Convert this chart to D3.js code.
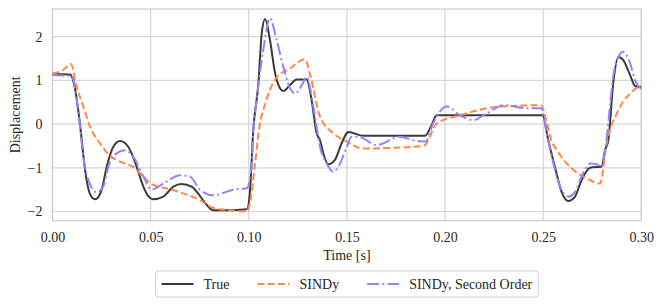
<!DOCTYPE html>
<html>
<head>
<meta charset="utf-8">
<script src="https://cdn.jsdelivr.net/npm/d3@7"></script>
<style>
  body { margin: 0; background: #fff; }
  svg text { font-family: "Liberation Serif", "Times New Roman", serif; fill: #262626; }
</style>
</head>
<body>
<div id="chart"></div>
<script>
// --- data ---
const trueT = [0, 0.004, 0.009, 0.0115, 0.014, 0.0166, 0.019, 0.0217, 0.025, 0.0276, 0.031, 0.0344, 0.0386, 0.0429, 0.0463, 0.0488, 0.0512, 0.0565, 0.0616, 0.0658, 0.0709, 0.0751, 0.0786, 0.0819, 0.0888, 0.099, 0.1005, 0.1023, 0.1049, 0.1066, 0.1083, 0.1108, 0.1134, 0.1159, 0.1176, 0.121, 0.1244, 0.1295, 0.132, 0.1346, 0.1363, 0.138, 0.1405, 0.1439, 0.1473, 0.1499, 0.1507, 0.1584, 0.1898, 0.1932, 0.1957, 0.2497, 0.2526, 0.256, 0.2594, 0.2628, 0.2662, 0.2696, 0.2739, 0.2798, 0.2815, 0.2832, 0.2857, 0.2883, 0.2908, 0.2943, 0.2968, 0.30];
const trueV = [1.15, 1.14, 1.13, 0.8, 0.0, -1.05, -1.59, -1.72, -1.51, -0.98, -0.52, -0.39, -0.52, -0.98, -1.43, -1.65, -1.72, -1.66, -1.43, -1.37, -1.43, -1.64, -1.85, -1.97, -1.97, -1.95, -1.6, -0.14, 0.93, 2.07, 2.4, 1.92, 1.16, 0.82, 0.755, 0.89, 1.02, 1.02, 0.55, -0.21, -0.37, -0.67, -0.92, -0.82, -0.44, -0.21, -0.18, -0.27, -0.27, -0.02, 0.2, 0.2, -0.37, -0.98, -1.55, -1.76, -1.66, -1.28, -1.0, -0.97, -0.6, -0.37, 0.93, 1.53, 1.46, 1.12, 0.87, 0.84];

const sindyT = [0, 0.005, 0.0094, 0.0123, 0.0157, 0.0191, 0.024, 0.029, 0.0344, 0.041, 0.0463, 0.05, 0.0615, 0.0751, 0.082, 0.09, 0.099, 0.1006, 0.1032, 0.105, 0.109, 0.114, 0.121, 0.1287, 0.131, 0.1363, 0.143, 0.15, 0.158, 0.17, 0.189, 0.196, 0.2076, 0.228, 0.249, 0.2515, 0.254, 0.257, 0.262, 0.272, 0.279, 0.2825, 0.2875, 0.2943, 0.30];
const sindyV = [1.15, 1.22, 1.37, 0.85, 0.4, -0.06, -0.43, -0.71, -0.86, -0.98, -1.2, -1.36, -1.51, -1.74, -1.92, -1.97, -2.0, -1.81, -0.9, -0.2, 0.55, 1.05, 1.27, 1.48, 1.17, 0.17, -0.21, -0.4, -0.56, -0.55, -0.5, 0.02, 0.2, 0.4, 0.43, 0.1, -0.35, -0.6, -0.9, -1.24, -1.36, -0.4, 0.24, 0.7, 0.88];

const sindy2T = [0, 0.005, 0.0098, 0.014, 0.0157, 0.019, 0.0225, 0.0259, 0.0284, 0.0327, 0.037, 0.0412, 0.0463, 0.0505, 0.0565, 0.065, 0.07, 0.0751, 0.082, 0.092, 0.099, 0.1015, 0.1023, 0.104, 0.1074, 0.1108, 0.1142, 0.1176, 0.121, 0.1236, 0.127, 0.1295, 0.1329, 0.1363, 0.1397, 0.143, 0.1465, 0.15, 0.1524, 0.1567, 0.165, 0.177, 0.1838, 0.19, 0.194, 0.2008, 0.2076, 0.2144, 0.2212, 0.23, 0.2416, 0.249, 0.2518, 0.2552, 0.2586, 0.2628, 0.2662, 0.2696, 0.274, 0.2773, 0.2798, 0.2815, 0.2866, 0.2908, 0.2943, 0.2968, 0.30];
const sindy2V = [1.12, 1.11, 1.1, -0.06, -0.75, -1.36, -1.56, -1.43, -0.98, -0.67, -0.6, -0.75, -1.2, -1.5, -1.36, -1.17, -1.2, -1.5, -1.63, -1.5, -1.47, -0.9, -0.14, 0.55, 1.7, 2.42, 1.92, 1.31, 0.82, 0.7, 0.89, 1.08, 0.4, -0.52, -0.9, -1.09, -0.9, -0.52, -0.29, -0.3, -0.48, -0.29, -0.37, -0.4, 0.02, 0.4, 0.2, 0.09, 0.24, 0.43, 0.36, 0.36, -0.21, -0.9, -1.43, -1.66, -1.55, -1.2, -0.9, -0.92, -0.98, -0.6, 1.31, 1.65, 1.39, 1.0, 0.8];

const seriesNames = ["True", "SINDy", "SINDy, Second Order"];
const xTicks = [0, 0.05, 0.10, 0.15, 0.20, 0.25, 0.30];
const yTicks = [-2, -1, 0, 1, 2];

const W = 664, H = 306;
const M = {left: 52.5, right: 22.7, top: 9, bottom: 85.3};
const FONT = '"Liberation Serif", "Times New Roman", serif';

const svg = d3.select('#chart').append('svg')
  .attr('width', W).attr('height', H);

const x = d3.scaleLinear().domain([0, 0.30]).range([M.left, W - M.right]);
const y = d3.scaleLinear().domain([-2.21, 2.63]).range([H - M.bottom, M.top]);

// grid
const grid = svg.append('g');
grid.selectAll('line.gx').data(xTicks).join('line')
  .attr('x1', d => x(d)).attr('x2', d => x(d))
  .attr('y1', M.top).attr('y2', H - M.bottom)
  .attr('stroke', '#d6d6d6').attr('stroke-width', 1.2);
grid.selectAll('line.gy').data(yTicks).join('line')
  .attr('x1', M.left).attr('x2', W - M.right)
  .attr('y1', d => y(d)).attr('y2', d => y(d))
  .attr('stroke', '#d6d6d6').attr('stroke-width', 1.2);

// frame
svg.append('rect')
  .attr('x', M.left).attr('y', M.top)
  .attr('width', W - M.left - M.right).attr('height', H - M.top - M.bottom)
  .attr('fill', 'none').attr('stroke', '#cccccc').attr('stroke-width', 1.2);

// axes (labels only)
const xAxisG = svg.append('g')
  .attr('transform', `translate(0,${H - M.bottom})`)
  .call(d3.axisBottom(x).tickValues(xTicks).tickFormat(d3.format('.2f')).tickSize(0).tickPadding(11));
const yAxisG = svg.append('g')
  .attr('transform', `translate(${M.left},0)`)
  .call(d3.axisLeft(y).tickValues(yTicks).tickFormat(d3.format('d')).tickSize(0).tickPadding(10));
[xAxisG, yAxisG].forEach(g => {
  g.attr('font-family', null).attr('font-size', null);
  g.select('.domain').remove();
  g.selectAll('text')
    .style('font-family', FONT)
    .style('font-size', '14px')
    .attr('fill', '#262626');
});

svg.append('text')
  .attr('x', (M.left + W - M.right) / 2).attr('y', 260)
  .attr('text-anchor', 'middle').attr('font-size', 14)
  .text('Time [s]');
svg.append('text')
  .attr('transform', `translate(20,${(M.top + H - M.bottom) / 2}) rotate(-90)`)
  .attr('text-anchor', 'middle').attr('font-size', 14)
  .text('Displacement');

// lines
const styles = [
  {color: '#3a3a3a', dash: null},
  {color: '#ff8a45', dash: '7,3.2'},
  {color: '#9384f6', dash: '12,3.2,2,3.2'}
];
const seriesData = [
  trueT.map((t, i) => [t, trueV[i]]),
  sindyT.map((t, i) => [t, sindyV[i]]),
  sindy2T.map((t, i) => [t, sindy2V[i]])
];
const line = d3.line().x(d => x(d[0])).y(d => y(d[1])).curve(d3.curveMonotoneX);

const linesG = svg.append('g');
[0, 1, 2].forEach(i => {
  linesG.append('path')
    .datum(seriesData[i])
    .attr('d', line)
    .attr('fill', 'none')
    .attr('stroke', styles[i].color)
    .attr('stroke-width', 2)
    .attr('stroke-dasharray', styles[i].dash);
});

// legend
const leg = svg.append('g');
const box = leg.append('rect');
let cx = 0;
seriesNames.forEach((name, i) => {
  const g = leg.append('g').attr('transform', `translate(${cx},0)`);
  g.append('line').attr('x1', 0).attr('x2', 32).attr('y1', 0).attr('y2', 0)
    .attr('stroke', styles[i].color).attr('stroke-width', 2)
    .attr('stroke-dasharray', styles[i].dash);
  const t = g.append('text').attr('x', 42).attr('y', 5).attr('font-size', 14).text(name);
  cx += 42 + t.node().getComputedTextLength() + 28;
});
const legW = cx - 28 + 2 * 6;
const legX = (M.left + W - M.right) / 2 - legW / 2;
leg.attr('transform', `translate(${legX + 6},284)`);
box.attr('x', -6).attr('y', -13).attr('width', legW).attr('height', 26)
  .attr('rx', 3).attr('fill', '#fff').attr('stroke', '#d0d0d0').attr('stroke-width', 1);
</script>
</body>
</html>
